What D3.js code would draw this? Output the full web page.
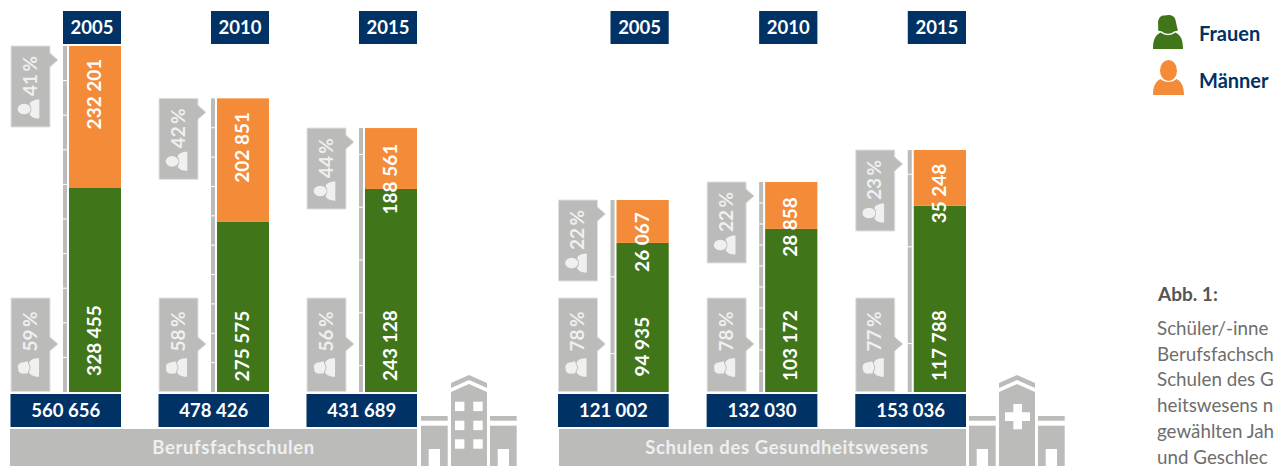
<!DOCTYPE html>
<html lang="de">
<head>
<meta charset="utf-8">
<title>Abb. 1</title>
<script src="https://cdn.jsdelivr.net/npm/d3@7"></script>
<style>
html, body { margin: 0; padding: 0; background: #fff; overflow: hidden; }
svg { display: block; }
text { font-family: Lato, "Open Sans", sans-serif; }
</style>
</head>
<body>
<script>
"use strict";
const jahre = ["2005", "2010", "2015"];
const gruppen = ["Berufsfachschulen", "Schulen des Gesundheitswesens"];
const frauen = [[328455, 275575, 243128], [94935, 103172, 117788]];
const maenner = [[232201, 202851, 188561], [26067, 28858, 35248]];
const gesamt = [[560656, 478426, 431689], [121002, 132030, 153036]];
// heights as they are drawn in the picture; they do not always follow the printed labels
const frauenGezeichnet = [[330600, 275575, 329000], [94300, 103172, 117788]];
const gesamtGezeichnet = [[560656, 475800, 427700], [121400, 132800, 153036]];
const frauenProzent = [[59, 58, 56], [78, 78, 77]];
const maennerProzent = [[41, 42, 44], [22, 22, 23]];
// tenths of the total where the grey strip beside a bar has a gap
const zehntel = [
	[[1, 2, 3, 4, 5, 6, 7, 8, 9], [1, 2, 3, 4, 5, 6, 7, 8, 9], [1, 3, 5, 7, 9]],
	[[2, 6], [1, 2, 3, 4, 5, 6, 7, 8, 9], [2, 6, 9]],
];
const legende = ["Frauen", "Männer"];
const abbTitel = "Abb. 1:";
// the caption runs off the right edge of the picture, only this much of it can be read
const abbText = ["Schüler/-inne", "Berufsfachsch", "Schulen des G", "heitswesens n", "gewählten Jah", "und Geschlec"];

const farbe = {navy: "rgb(0,50,102)", green: "rgb(65,117,26)", orange: "rgb(244,139,56)", grey: "rgb(187,187,186)", pale: "rgb(240,240,240)"};
const size = {width: 1275, height: 466, base: 392};
const panels = [
	{x: [69, 417], top: 46, left: 10, right: 417, offset: 0, titleX: 233.5},
	{x: [616.5, 966], top: 150, left: 559, right: 966, offset: 548, titleX: 787},
];
const maennerLabel = [[48, 49, 51], [42, 45, 43.5]];
const frauenLabel = [340.5, 346, 345.6, 346.7, 345.7, 345.6];

const fmt = n => d3.format(",")(n).replace(/,/g, " ");
const svg = d3.select("body").append("svg").attr("width", size.width).attr("height", size.height);

function frau(g, fill) {
	g.append("path").attr("fill", fill)
	.attr("d", "M-10,-10 C-9,-15 -7,-17 -3,-16.5 C-1,-17.5 4,-17.5 6,-15 C8,-13 8,-8 10,-1.5 L6,-0.5 C3,2.5 -3,2.5 -6,-0.5 L-10,-1.5 C-9.5,-4 -10,-7 -10,-10 Z");
	g.append("path").attr("fill", fill)
	.attr("d", "M-15,17 C-15,8 -13,3 -7,0.5 C-3,4 3,4 7,0.5 C13,3 15,8 15,17 Z");
}
function mann(g, fill) {
	g.append("ellipse").attr("fill", fill).attr("cx", 0).attr("cy", -7).attr("rx", 8.5).attr("ry", 10.5);
	g.append("path").attr("fill", fill)
	.attr("d", "M-15.5,17.5 C-15.5,9 -13,4 -8,1.5 C-4,5.5 4,5.5 8,1.5 C13,4 15.5,9 15.5,17.5 Z");
}

function callout(x, y, h, tipY, label, icon, textY, iconY) {
	const g = svg.append("g");
	g.append("path").attr("fill", farbe.grey).attr("stroke", "rgb(225,225,225)").attr("stroke-width", 1)
	.attr("d", `M${x},${y} H${x + 39} V${tipY - 7} L${x + 47},${tipY} L${x + 39},${tipY + 7} V${y + h} H${x} Z`);
	g.append("text").attr("transform", `translate(${x + 25.5},${textY}) rotate(-90)`)
	.attr("text-anchor", "middle").attr("font-size", 19).attr("font-weight", 700).attr("fill", farbe.pale).text(label + "\u2009%");
	icon(g.append("g").attr("transform", `translate(${x + 17.5},${iconY}) rotate(-90) scale(0.62)`), farbe.pale);
}

let n = 0;
panels.forEach((panel, p) => {
	const x = d3.scaleBand().domain(jahre).range(panel.x).paddingInner(96 / 148);
	const y = d3.scaleLinear().domain([0, d3.max(gesamt[p])]).range([size.base, panel.top]);
	jahre.forEach((jahr, i) => {
		const bx = x(jahr), w = x.bandwidth(), top = y(gesamtGezeichnet[p][i]), mid = bx + w / 2, split = y(frauenGezeichnet[p][i]);
		svg.append("rect").attr("x", bx - 6).attr("y", 11).attr("width", w + 6).attr("height", 33).attr("fill", farbe.navy);
		svg.append("text").attr("x", mid - 3).attr("y", 33.5).attr("text-anchor", "middle").attr("font-size", 18.5).attr("font-weight", 700).attr("fill", "#fff").text(jahr);

		svg.append("rect").attr("x", bx).attr("y", split).attr("width", w).attr("height", size.base - split).attr("fill", farbe.green);
		svg.append("rect").attr("x", bx).attr("y", top).attr("width", w).attr("height", split - top).attr("fill", farbe.orange);

		svg.append("rect").attr("x", bx - 6).attr("y", top).attr("width", 4).attr("height", size.base - top).attr("fill", farbe.grey);
		zehntel[p][i].forEach(d => {
			svg.append("rect").attr("x", bx - 6).attr("y", y(gesamtGezeichnet[p][i] * d / 10) - 0.5).attr("width", 4).attr("height", 1).attr("fill", "#fff");
		});

		svg.append("text").attr("transform", `translate(${mid + 6},${top + maennerLabel[p][i]}) rotate(-90)`)
		.attr("text-anchor", "middle").attr("font-size", 19).attr("font-weight", 700).attr("fill", "#fff").text(fmt(maenner[p][i]));
		svg.append("text").attr("transform", `translate(${mid + 6},${frauenLabel[n]}) rotate(-90)`)
		.attr("text-anchor", "middle").attr("font-size", 19).attr("font-weight", 700).attr("fill", "#fff").text(fmt(frauen[p][i]));

		callout(bx - 58, top, 81, top + 14, maennerProzent[p][i], mann, top + 30, top + 63);
		callout(bx - 58, 298, 93.5, 344, frauenProzent[p][i], frau, 331.5, 367.5);

		svg.append("rect").attr("x", bx - 58.5).attr("y", 394).attr("width", w + 58.5).attr("height", 33).attr("fill", farbe.navy);
		svg.append("text").attr("x", bx - 58.5 + (w + 58.5) / 2).attr("y", 416.5).attr("text-anchor", "middle").attr("font-size", 18.5).attr("font-weight", 700).attr("fill", "#fff").text(fmt(gesamt[p][i]));
		n++;
	});
	svg.append("rect").attr("x", panel.left).attr("y", 429).attr("width", panel.right - panel.left).attr("height", 37).attr("fill", farbe.grey);
	svg.append("text").attr("x", panel.titleX).attr("y", 453.5).attr("text-anchor", "middle").attr("font-size", 18.5).attr("font-weight", 700).attr("letter-spacing", 0.6).attr("fill", farbe.pale).text(gruppen[p]);

	// building
	const b = svg.append("g").attr("transform", `translate(${panel.offset},0)`).attr("fill", farbe.grey);
	b.append("path").attr("d", "M451,383 L469,375 L487,383 V388 L469,380 L451,388 Z");
	b.append("path").attr("d", "M451,392 L469,384 L487,392 V466 H451 Z");
	[[421, 447.7], [490, 516.7]].forEach(r => {
		b.append("rect").attr("x", r[0]).attr("y", 416).attr("width", r[1] - r[0]).attr("height", 4.7);
		b.append("rect").attr("x", r[0]).attr("y", 425.7).attr("width", r[1] - r[0]).attr("height", 40.3);
		b.append("rect").attr("x", r[0] + 7.7).attr("y", 449).attr("width", 11.3).attr("height", 17).attr("fill", "#fff");
	});
	if (p === 0) {
		[455, 473.3].forEach(wx => [401.7, 420.7, 439.3].forEach(wy => {
			b.append("rect").attr("x", wx).attr("y", wy).attr("width", 9.4).attr("height", 9.4).attr("fill", "#fff");
		}));
	} else {
		b.append("path").attr("fill", "#fff").attr("d", "M465.3,404 H474 V412.3 H482 V421 H474 V429.3 H465.3 V421 H457 V412.3 H465.3 Z");
	}
});

// legend
frau(svg.append("g").attr("transform", "translate(1168,32)"), farbe.green);
mann(svg.append("g").attr("transform", "translate(1168.5,77.5)"), farbe.orange);
svg.selectAll(".leg").data(legende).enter().append("text").attr("class", "leg")
.attr("x", 1199).attr("y", (d, i) => 41 + i * 47).attr("font-size", 20).attr("font-weight", 700).attr("fill", farbe.navy).text(d => d);

svg.append("text").attr("x", 1158).attr("y", 301).attr("font-size", 19).attr("font-weight", 700).attr("fill", "rgb(85,85,85)").text(abbTitel);
svg.selectAll(".abb").data(abbText).enter().append("text").attr("class", "abb")
.attr("x", 1157).attr("y", (d, i) => 335 + i * 25.7).attr("font-size", 18.8).attr("fill", "rgb(110,110,110)").text(d => d);
</script>
</body>
</html>
